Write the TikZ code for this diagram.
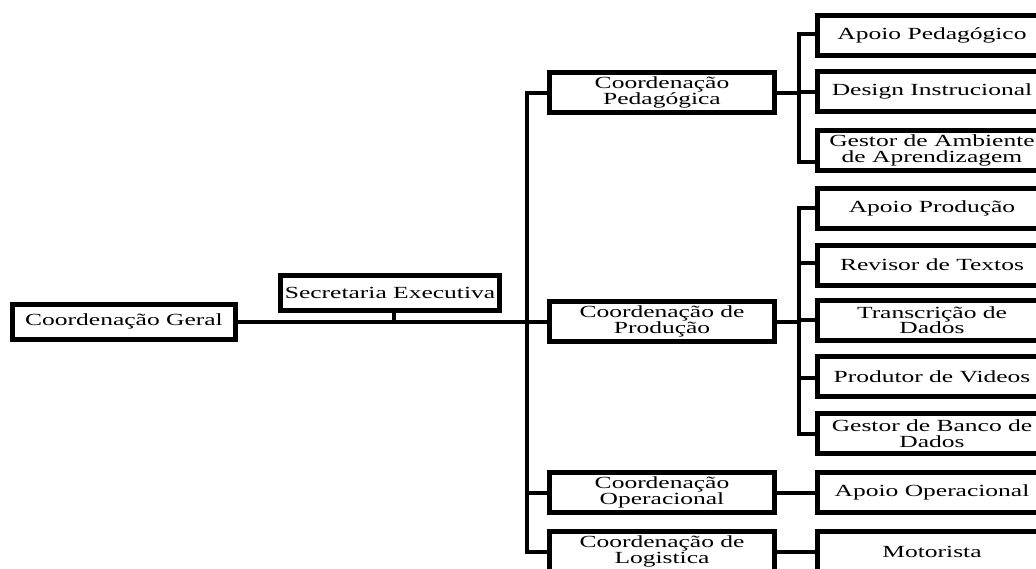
\documentclass[tikz,border=0pt]{standalone}
\usepackage{fontspec}
\setmainfont{Liberation Serif}[FakeStretch=1.5]
\begin{document}
\begin{tikzpicture}[x=1pt, y=-1pt, line width=4pt,
    caixa/.style={draw, line width=5pt, align=center, inner sep=0pt, font=\fontsize{17}{15.5}\selectfont},
    coord/.style={caixa, minimum width=225pt, minimum height=40pt},
    cargo/.style={caixa, minimum width=230pt, minimum height=40pt}]
    \useasboundingbox (0,0) rectangle (1036,568);
    \clip (0,0) rectangle (1036,568);
    \node[caixa, minimum width=223pt, minimum height=35pt] (geral) at (124,321.5) {Coordenação Geral};
    \node[caixa, minimum width=219pt, minimum height=35pt] (secretaria) at (390,293) {Secretaria Executiva};
    \coordinate (tronco) at (527,321.5);
    \draw (geral.east) -- (tronco);
    \draw ([xshift=4pt]secretaria.south) -- ([xshift=4pt]secretaria.south |- geral.east);
    %as coordenacoes, todas penduradas no mesmo tronco
    \foreach \nm/\y/\txt in {pedag/92.5/{Coordenação\\Pedagógica}, producao/321.5/{Coordenação de\\Produção},
            operacional/492.5/{Coordenação\\Operacional}, logistica/551.5/{Coordenação de\\Logistica}}{
        \node[coord] (\nm) at (662,\y) {\txt};
        \draw (tronco) |- (\nm.west);
    }
    %cargos: nome/pai/altura/desvio do ramo/texto
    \foreach \nm/\pai/\y/\dy/\txt in {apoioped/pedag/35/-1/{Apoio Pedagógico}, design/pedag/91.5/0/{Design Instrucional},
            gestoramb/pedag/150.5/11.5/{Gestor de Ambiente\\de Aprendizagem}, apoioprod/producao/208.5/-1/{Apoio Produção},
            revisor/producao/265/-2/{Revisor de Textos}, transcricao/producao/320/0/{Transcrição de\\Dados},
            produtor/producao/376.5/1.5/{Produtor de Videos}, gestorbanco/producao/433.5/0/{Gestor de Banco de\\Dados},
            apoioop/operacional/492.5/0/{Apoio Operacional}, motorista/logistica/551.5/0/{Motorista}}{
        \node[cargo] (\nm) at (932,\y) {\txt};
        \draw (\pai.east) -- ++(22,0) |- ([yshift=-\dy pt]\nm.west);
    }
\end{tikzpicture}
\end{document}
